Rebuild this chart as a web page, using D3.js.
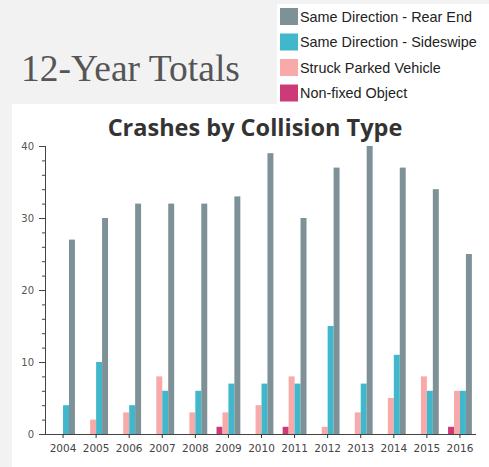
<!DOCTYPE html>
<html>
<head>
<meta charset="utf-8">
<script src="https://cdn.jsdelivr.net/npm/d3@7"></script>
<style>
  html, body { margin: 0; padding: 0; background: #f2f2f2; }
  svg { display: block; }
</style>
</head>
<body>
<script>
// Crash counts per year, by collision type
const years = ["2004","2005","2006","2007","2008","2009","2010","2011","2012","2013","2014","2015","2016"];
const seriesNames = ["Non-fixed Object","Struck Parked Vehicle","Same Direction - Sideswipe","Same Direction - Rear End"];
const nonFixed   = [0,0,0,0,0,1,0,1,0,0,0,0,1];
const struckParked = [0,2,3,8,3,3,4,8,1,3,5,8,6];
const sideswipe  = [4,10,4,6,6,7,7,7,15,7,11,6,6];
const rearEnd    = [27,30,32,32,32,33,39,30,37,40,37,34,25];
const yTicks = [0,10,20,30,40];
const legendOrder = ["Same Direction - Rear End","Same Direction - Sideswipe","Struck Parked Vehicle","Non-fixed Object"];

const colors = {
  "Same Direction - Rear End": "#7d9196",
  "Same Direction - Sideswipe": "#41b7cb",
  "Struck Parked Vehicle": "#f8a9a9",
  "Non-fixed Object": "#cd3a78"
};
const valuesBySeries = {
  "Non-fixed Object": nonFixed,
  "Struck Parked Vehicle": struckParked,
  "Same Direction - Sideswipe": sideswipe,
  "Same Direction - Rear End": rearEnd
};

const W = 489, H = 467;
const svg = d3.select("body").append("svg").attr("width", W).attr("height", H);

// page background + white chart panel + legend panel
svg.append("rect").attr("width", W).attr("height", H).attr("fill", "#f2f2f2");
svg.append("rect").attr("x", 12).attr("y", 104).attr("width", W - 12).attr("height", H - 104).attr("fill", "#ffffff");
svg.append("rect").attr("x", 277).attr("y", 4).attr("width", W - 277).attr("height", 101).attr("fill", "#ffffff");

// page heading
svg.append("text")
  .attr("x", 21).attr("y", 81)
  .attr("font-family", "'Liberation Serif', serif")
  .attr("font-size", 37.5)
  .attr("fill", "#555555")
  .text("12-Year Totals");

// legend
const legend = svg.append("g").attr("transform", "translate(280,8)");
legendOrder.forEach((name, i) => {
  const g = legend.append("g").attr("transform", `translate(0,${i * 25.5})`);
  g.append("rect").attr("width", 18).attr("height", 17).attr("fill", colors[name]);
  g.append("text")
    .attr("x", 20).attr("y", 13.5)
    .attr("font-family", "'Liberation Sans', Arial, sans-serif")
    .attr("font-size", 14.4)
    .attr("fill", "#222")
    .text(name);
});

// chart title
svg.append("text")
  .attr("x", 255).attr("y", 136)
  .attr("text-anchor", "middle")
  .attr("font-family", "'Open Sans', 'DejaVu Sans', sans-serif")
  .attr("font-weight", "bold")
  .attr("font-size", 23.5)
  .attr("fill", "#333333")
  .text("Crashes by Collision Type");

// scales
const plotLeft = 45, plotRight = 476, yTop = 146, yBottom = 434;
const x0 = d3.scaleBand().domain(years).range([46.5, 476.5]).paddingInner(0.28).paddingOuter(0.14);
const x1 = d3.scaleBand().domain(seriesNames).range([0, x0.bandwidth()]);
const y = d3.scaleLinear().domain([0, 40]).range([yBottom, yTop]);

// bars
const groups = svg.append("g").selectAll("g")
  .data(years)
  .join("g")
  .attr("transform", d => `translate(${x0(d)},0)`);

groups.selectAll("rect")
  .data((yr, i) => seriesNames.map(s => ({ s, v: valuesBySeries[s][i] })))
  .join("rect")
  .attr("x", d => x1(d.s))
  .attr("width", x1.bandwidth())
  .attr("y", d => y(d.v))
  .attr("height", d => y(0) - y(d.v))
  .attr("fill", d => colors[d.s]);

// y axis: labelled major ticks + minor ticks every 2
const yMinor = svg.append("g").attr("transform", `translate(${plotLeft},0)`)
  .call(d3.axisLeft(y).tickValues(d3.range(0, 41, 2)).tickSize(3).tickFormat(""));
yMinor.select(".domain").remove();
yMinor.selectAll("line").attr("stroke", "#444");

const yAxis = svg.append("g").attr("transform", `translate(${plotLeft},0)`)
  .call(d3.axisLeft(y).tickValues(yTicks).tickSize(6).tickPadding(5));
yAxis.select(".domain").attr("stroke", "#444").attr("d", `M0.5,${yTop}V${yBottom + 0.5}`);
yAxis.selectAll("line").attr("stroke", "#444");
yAxis.selectAll("text")
  .attr("font-family", "'DejaVu Sans', Verdana, sans-serif")
  .attr("font-size", 10)
  .attr("fill", "#555");

// x axis
const xAxis = svg.append("g").attr("transform", `translate(0,${yBottom})`)
  .call(d3.axisBottom(x0).tickSize(4).tickPadding(7).tickSizeOuter(0));
xAxis.select(".domain").attr("stroke", "#444").attr("d", `M${plotLeft},0.5H${plotRight}`);
xAxis.selectAll("line").attr("stroke", "#333");
xAxis.selectAll("text")
  .attr("font-family", "'DejaVu Sans', Verdana, sans-serif")
  .attr("font-size", 10.5)
  .attr("fill", "#444");
</script>
</body>
</html>
